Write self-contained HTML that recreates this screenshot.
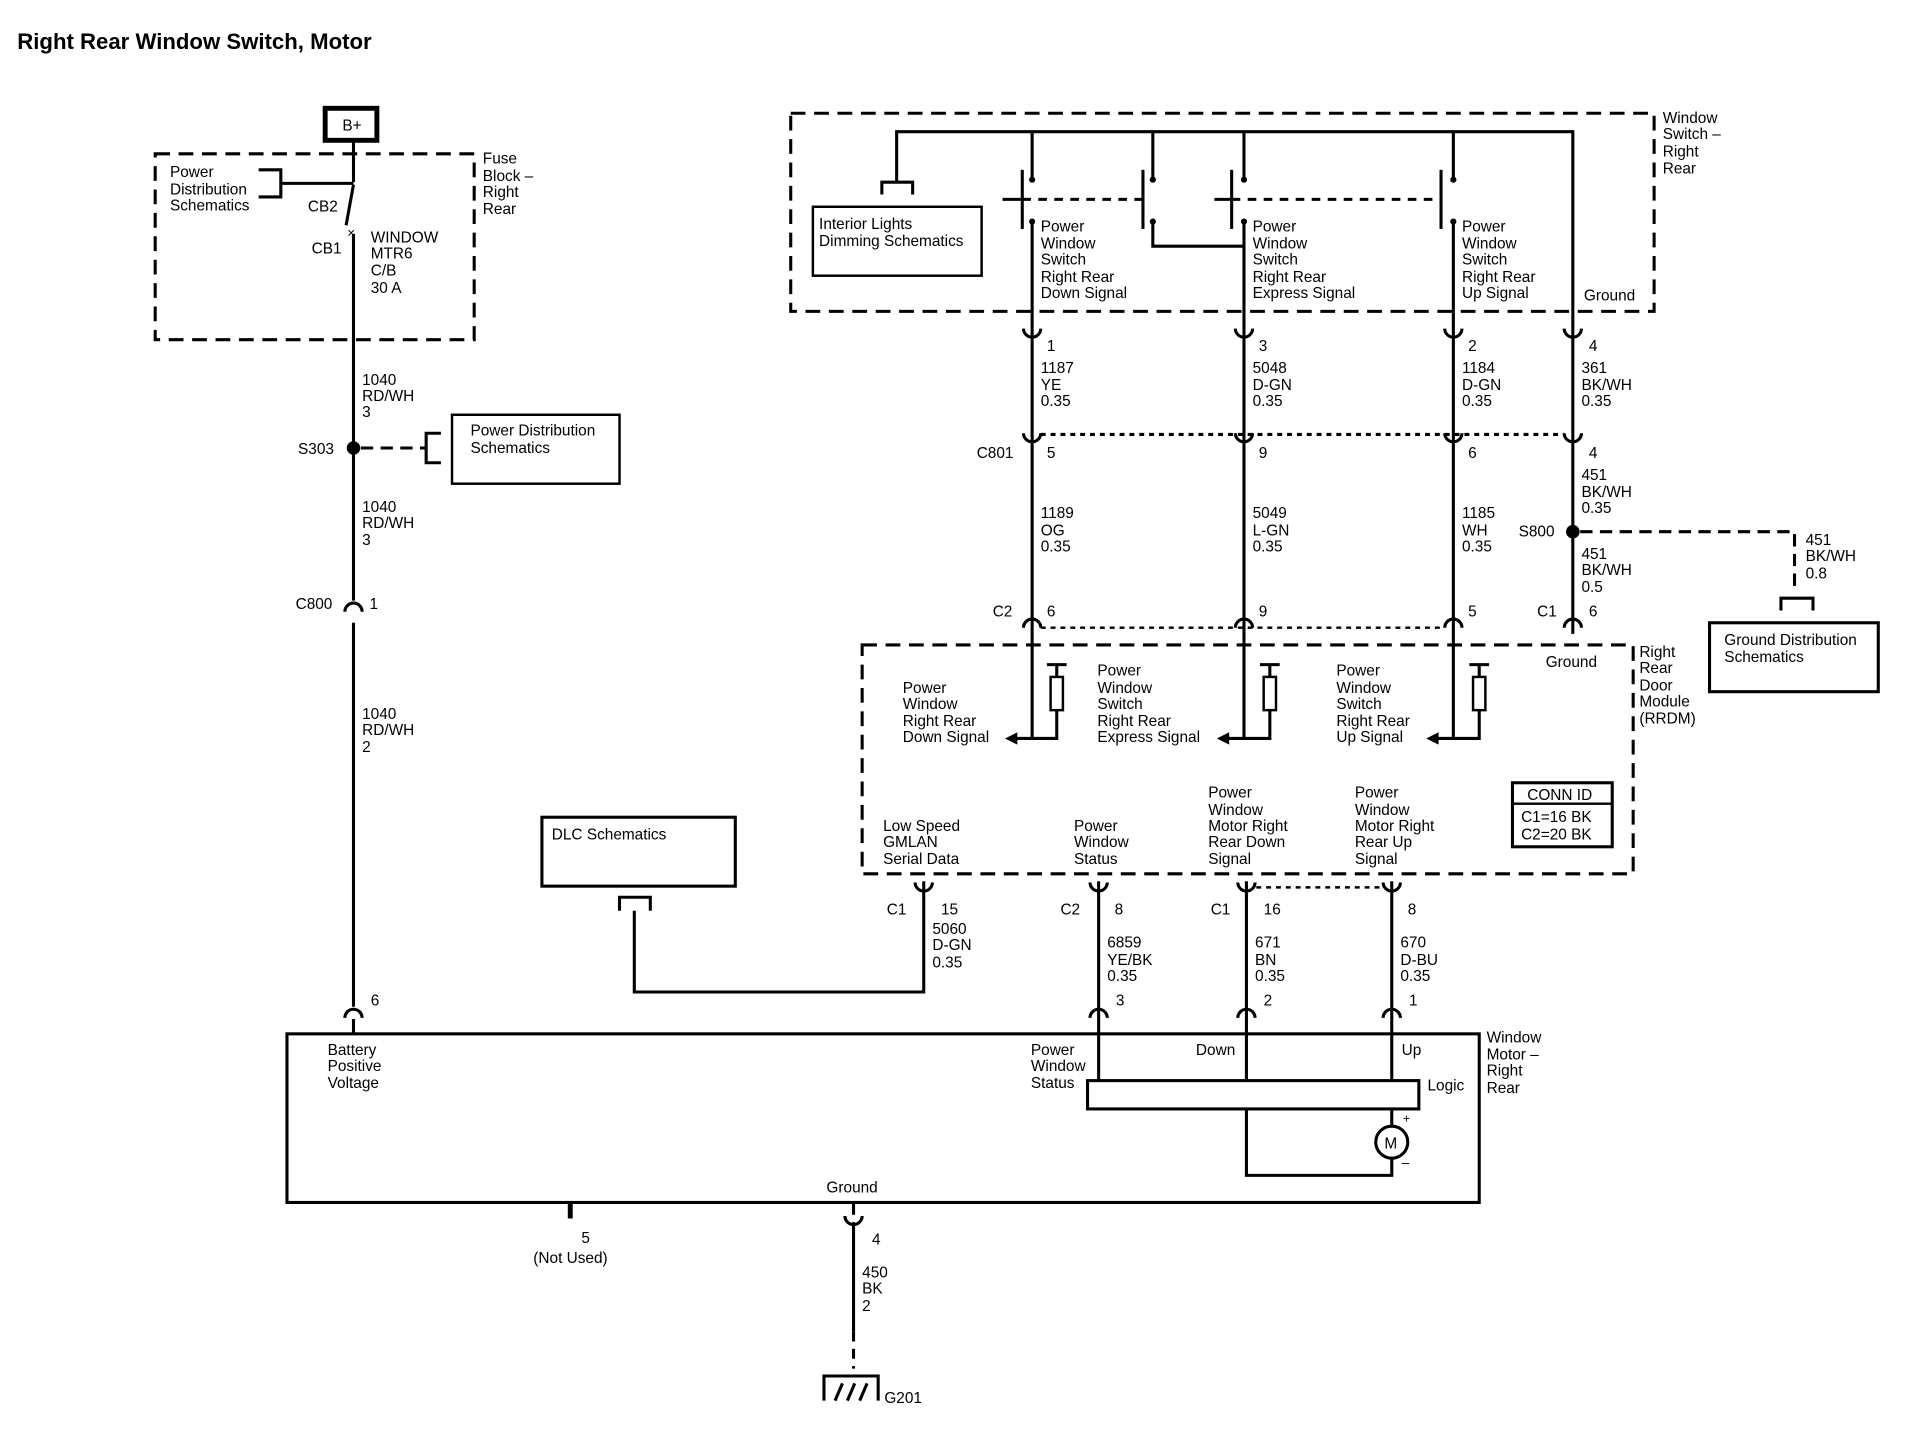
<!DOCTYPE html>
<html><head><meta charset="utf-8"><style>
html,body{margin:0;padding:0;background:#fff;}
svg{display:block;}
text{font-family:"Liberation Sans",sans-serif;font-size:12.5px;fill:#000;}
.t{font-size:18px;font-weight:bold;}
</style></head><body>
<svg width="1930" height="1440" viewBox="0 0 1567 1170" preserveAspectRatio="none" xmlns="http://www.w3.org/2000/svg">
<defs>
<g id="cn"><path d="M-7,7 A7,7 0 0 1 7,7" fill="none" stroke="#000" stroke-width="2.5"/></g>
<g id="cu"><path d="M-7,-5 A7,7 0 0 0 7,-5" fill="none" stroke="#000" stroke-width="2.5"/></g>
</defs>
<text x="14" y="40" class="t">Right Rear Window Switch, Motor</text>

<rect x="264" y="88" width="42" height="26" fill="none" stroke="#000" stroke-width="4"/>
<text x="278" y="106">B+</text>
<g stroke="#000" stroke-width="2.5" fill="none">
<line x1="287" y1="114" x2="287" y2="148"/>
<path d="M287,150 L281,183"/>
<line x1="287" y1="190" x2="287" y2="488"/>
<line x1="287" y1="506" x2="287" y2="818"/>
<path d="M210,138 H228 V160 H210 M228,149 H287"/>
</g>
<text x="282" y="193" style="font-size:11px">×</text>
<rect x="126" y="125" width="259" height="151" fill="none" stroke="#000" stroke-width="2.5" stroke-dasharray="12,7"/>
<text x="138" y="144">Power</text><text x="138" y="158">Distribution</text><text x="138" y="171">Schematics</text>
<text x="250" y="172">CB2</text><text x="253" y="206">CB1</text>
<text x="301" y="197">WINDOW</text><text x="301" y="210">MTR6</text><text x="301" y="224">C/B</text><text x="301" y="238">30 A</text>
<text x="392" y="133">Fuse</text><text x="392" y="147">Block –</text><text x="392" y="160">Right</text><text x="392" y="174">Rear</text>
<text x="294" y="313">1040</text><text x="294" y="326">RD/WH</text><text x="294" y="339">3</text>
<circle cx="287" cy="364" r="5.5"/>
<text x="242" y="369">S303</text>
<line x1="293" y1="364" x2="345" y2="364" stroke="#000" stroke-width="2.5" stroke-dasharray="10,6"/>
<path d="M358,352 H346 V376 H358" fill="none" stroke="#000" stroke-width="2.5"/>
<rect x="367" y="337" width="136" height="56" fill="none" stroke="#000" stroke-width="2"/>
<text x="382" y="354">Power Distribution</text><text x="382" y="368">Schematics</text>
<text x="294" y="416">1040</text><text x="294" y="429">RD/WH</text><text x="294" y="443">3</text>
<use href="#cn" x="287" y="490"/>
<text x="240" y="495">C800</text><text x="300" y="495">1</text>
<text x="294" y="584">1040</text><text x="294" y="597">RD/WH</text><text x="294" y="611">2</text>
<use href="#cn" x="287" y="820"/>
<text x="301" y="817">6</text>
<line x1="287" y1="828" x2="287" y2="840" stroke="#000" stroke-width="2.5"/>

<rect x="642" y="92" width="701" height="161" fill="none" stroke="#000" stroke-width="2.5" stroke-dasharray="12,7"/>
<text x="1350" y="100">Window</text><text x="1350" y="113">Switch –</text><text x="1350" y="127">Right</text><text x="1350" y="141">Rear</text>
<g stroke="#000" stroke-width="2.5" fill="none">
<path d="M728,148 V107 H1277 V262"/>
<path d="M716,158 V148 H741 V158"/>
<line x1="838" y1="107" x2="838" y2="146"/>
<line x1="936" y1="107" x2="936" y2="146"/>
<line x1="1010" y1="107" x2="1010" y2="146"/>
<line x1="1180" y1="107" x2="1180" y2="146"/>
<line x1="830" y1="138" x2="830" y2="186"/>
<line x1="928" y1="138" x2="928" y2="186"/>
<line x1="1000" y1="138" x2="1000" y2="186"/>
<line x1="1170" y1="138" x2="1170" y2="186"/>
<line x1="838" y1="180" x2="838" y2="262"/>
<path d="M936,180 V200 H1010"/>
<line x1="1010" y1="180" x2="1010" y2="262"/>
<line x1="1180" y1="180" x2="1180" y2="262"/>
<line x1="814" y1="162" x2="830" y2="162"/>
<line x1="986" y1="162" x2="1000" y2="162"/>
</g>
<g stroke="#000" stroke-width="2.5" stroke-dasharray="7,6"><line x1="830" y1="162" x2="928" y2="162"/><line x1="1000" y1="162" x2="1170" y2="162"/></g>
<g><circle cx="838" cy="146" r="2.5"/><circle cx="838" cy="180" r="2.5"/><circle cx="936" cy="146" r="2.5"/><circle cx="936" cy="180" r="2.5"/><circle cx="1010" cy="146" r="2.5"/><circle cx="1010" cy="180" r="2.5"/><circle cx="1180" cy="146" r="2.5"/><circle cx="1180" cy="180" r="2.5"/></g>
<rect x="660" y="168" width="137" height="56" fill="none" stroke="#000" stroke-width="2"/>
<text x="665" y="186">Interior Lights</text><text x="665" y="200">Dimming Schematics</text>
<text x="845" y="188">Power</text><text x="845" y="202">Window</text><text x="845" y="215">Switch</text><text x="845" y="229">Right Rear</text><text x="845" y="242">Down Signal</text>
<text x="1017" y="188">Power</text><text x="1017" y="202">Window</text><text x="1017" y="215">Switch</text><text x="1017" y="229">Right Rear</text><text x="1017" y="242">Express Signal</text>
<text x="1187" y="188">Power</text><text x="1187" y="202">Window</text><text x="1187" y="215">Switch</text><text x="1187" y="229">Right Rear</text><text x="1187" y="242">Up Signal</text>
<text x="1286" y="244">Ground</text>

<g stroke="#000" stroke-width="2.5">
<line x1="838" y1="262" x2="838" y2="600"/>
<line x1="1010" y1="262" x2="1010" y2="600"/>
<line x1="1180" y1="262" x2="1180" y2="600"/>
<line x1="1277" y1="262" x2="1277" y2="515"/>
</g>
<g><use href="#cu" x="838" y="272"/><use href="#cu" x="1010" y="272"/><use href="#cu" x="1180" y="272"/><use href="#cu" x="1277" y="272"/>
<use href="#cu" x="838" y="357"/><use href="#cu" x="1010" y="357"/><use href="#cu" x="1180" y="357"/><use href="#cu" x="1277" y="357"/>
<use href="#cn" x="838" y="503"/><use href="#cn" x="1010" y="503"/><use href="#cn" x="1180" y="503"/><use href="#cn" x="1277" y="503"/></g>
<line x1="845" y1="353" x2="1270" y2="353" stroke="#000" stroke-width="2.5" stroke-dasharray="4,4"/>
<line x1="845" y1="510" x2="1170" y2="510" stroke="#000" stroke-width="2" stroke-dasharray="4,4"/>
<text x="850" y="285">1</text><text x="1022" y="285">3</text><text x="1192" y="285">2</text><text x="1290" y="285">4</text>
<text x="845" y="303">1187</text><text x="845" y="317">YE</text><text x="845" y="330">0.35</text>
<text x="1017" y="303">5048</text><text x="1017" y="317">D-GN</text><text x="1017" y="330">0.35</text>
<text x="1187" y="303">1184</text><text x="1187" y="317">D-GN</text><text x="1187" y="330">0.35</text>
<text x="1284" y="303">361</text><text x="1284" y="317">BK/WH</text><text x="1284" y="330">0.35</text>
<text x="793" y="372">C801</text><text x="850" y="372">5</text><text x="1022" y="372">9</text><text x="1192" y="372">6</text><text x="1290" y="372">4</text>
<text x="1284" y="390">451</text><text x="1284" y="404">BK/WH</text><text x="1284" y="417">0.35</text>
<text x="845" y="421">1189</text><text x="845" y="435">OG</text><text x="845" y="448">0.35</text>
<text x="1017" y="421">5049</text><text x="1017" y="435">L-GN</text><text x="1017" y="448">0.35</text>
<text x="1187" y="421">1185</text><text x="1187" y="435">WH</text><text x="1187" y="448">0.35</text>
<circle cx="1277" cy="432" r="5.5"/>
<text x="1233" y="436">S800</text>
<path d="M1283,432 H1457 V478" fill="none" stroke="#000" stroke-width="2.5" stroke-dasharray="10,6"/>
<path d="M1446,496 V486 H1472 V496" fill="none" stroke="#000" stroke-width="2.5"/>
<text x="1466" y="443">451</text><text x="1466" y="456">BK/WH</text><text x="1466" y="470">0.8</text>
<rect x="1388" y="506" width="137" height="56" fill="none" stroke="#000" stroke-width="2.5"/>
<text x="1400" y="524">Ground Distribution</text><text x="1400" y="538">Schematics</text>
<text x="1284" y="454">451</text><text x="1284" y="467">BK/WH</text><text x="1284" y="481">0.5</text>
<text x="806" y="501">C2</text><text x="850" y="501">6</text><text x="1022" y="501">9</text><text x="1192" y="501">5</text><text x="1248" y="501">C1</text><text x="1290" y="501">6</text>

<rect x="700" y="524" width="626" height="186" fill="none" stroke="#000" stroke-width="2.5" stroke-dasharray="12,7"/>
<text x="1331" y="534">Right</text><text x="1331" y="547">Rear</text><text x="1331" y="561">Door</text><text x="1331" y="574">Module</text><text x="1331" y="588">(RRDM)</text>
<text x="1255" y="542">Ground</text>
<g stroke="#000" stroke-width="2.5" fill="none">
<path d="M858,540 V600 H825"/><path d="M850,540 H866"/>
<path d="M1031,540 V600 H997"/><path d="M1023,540 H1039"/>
<path d="M1201,540 V600 H1167"/><path d="M1193,540 H1209"/>
</g>
<g fill="#fff" stroke="#000" stroke-width="2"><rect x="853" y="550" width="10" height="27"/><rect x="1026" y="550" width="10" height="27"/><rect x="1196" y="550" width="10" height="27"/></g>
<path d="M816,600 L826,595 L826,605Z M988,600 L998,595 L998,605Z M1158,600 L1168,595 L1168,605Z"/>
<text x="733" y="563">Power</text><text x="733" y="576">Window</text><text x="733" y="590">Right Rear</text><text x="733" y="603">Down Signal</text>
<text x="891" y="549">Power</text><text x="891" y="563">Window</text><text x="891" y="576">Switch</text><text x="891" y="590">Right Rear</text><text x="891" y="603">Express Signal</text>
<text x="1085" y="549">Power</text><text x="1085" y="563">Window</text><text x="1085" y="576">Switch</text><text x="1085" y="590">Right Rear</text><text x="1085" y="603">Up Signal</text>
<rect x="1228" y="636" width="81" height="52" fill="none" stroke="#000" stroke-width="2.5"/>
<line x1="1228" y1="653" x2="1309" y2="653" stroke="#000" stroke-width="2"/>
<text x="1240" y="650">CONN ID</text><text x="1235" y="668">C1=16 BK</text><text x="1235" y="682">C2=20 BK</text>
<text x="717" y="675">Low Speed</text><text x="717" y="688">GMLAN</text><text x="717" y="702">Serial Data</text>
<text x="872" y="675">Power</text><text x="872" y="688">Window</text><text x="872" y="702">Status</text>
<text x="981" y="648">Power</text><text x="981" y="662">Window</text><text x="981" y="675">Motor Right</text><text x="981" y="688">Rear Down</text><text x="981" y="702">Signal</text>
<text x="1100" y="648">Power</text><text x="1100" y="662">Window</text><text x="1100" y="675">Motor Right</text><text x="1100" y="688">Rear Up</text><text x="1100" y="702">Signal</text>

<rect x="440" y="664" width="157" height="56" fill="none" stroke="#000" stroke-width="2.5"/>
<text x="448" y="682">DLC Schematics</text>
<g stroke="#000" stroke-width="2.5" fill="none">
<path d="M503,740 V729 H528 V740"/>
<path d="M515,740 V806 H750 V716"/>
<line x1="892" y1="716" x2="892" y2="878"/>
<line x1="1012" y1="716" x2="1012" y2="878"/>
<line x1="1130" y1="716" x2="1130" y2="878"/>
</g>
<use href="#cu" x="750" y="722"/><use href="#cu" x="892" y="722"/><use href="#cu" x="1012" y="722"/><use href="#cu" x="1130" y="722"/>
<line x1="1020" y1="721" x2="1124" y2="721" stroke="#000" stroke-width="2" stroke-dasharray="4,4"/>
<text x="720" y="743">C1</text><text x="764" y="743">15</text>
<text x="861" y="743">C2</text><text x="905" y="743">8</text>
<text x="983" y="743">C1</text><text x="1026" y="743">16</text>
<text x="1143" y="743">8</text>
<text x="757" y="759">5060</text><text x="757" y="772">D-GN</text><text x="757" y="786">0.35</text>
<text x="899" y="770">6859</text><text x="899" y="784">YE/BK</text><text x="899" y="797">0.35</text>
<text x="1019" y="770">671</text><text x="1019" y="784">BN</text><text x="1019" y="797">0.35</text>
<text x="1137" y="770">670</text><text x="1137" y="784">D-BU</text><text x="1137" y="797">0.35</text>
<use href="#cn" x="892" y="820"/><use href="#cn" x="1012" y="820"/><use href="#cn" x="1130" y="820"/>
<text x="906" y="817">3</text><text x="1026" y="817">2</text><text x="1144" y="817">1</text>

<rect x="233" y="840" width="968" height="137" fill="none" stroke="#000" stroke-width="2.5"/>
<text x="1207" y="847">Window</text><text x="1207" y="861">Motor –</text><text x="1207" y="874">Right</text><text x="1207" y="888">Rear</text>
<text x="266" y="857">Battery</text><text x="266" y="870">Positive</text><text x="266" y="884">Voltage</text>
<text x="837" y="857">Power</text><text x="837" y="870">Window</text><text x="837" y="884">Status</text>
<text x="971" y="857">Down</text><text x="1138" y="857">Up</text><text x="1159" y="886">Logic</text>
<rect x="883" y="878" width="269" height="23" fill="none" stroke="#000" stroke-width="2.5"/>
<g stroke="#000" stroke-width="2.5" fill="none">
<path d="M1012,901 V955 H1130 V941"/><path d="M1130,901 V915"/>
<circle cx="1130" cy="928" r="13"/>
</g>
<text x="1124" y="933">M</text><text x="1139" y="912" style="font-size:10px">+</text><text x="1138" y="948" style="font-size:11px">–</text>
<text x="671" y="969">Ground</text>
<line x1="463" y1="977" x2="463" y2="990" stroke="#000" stroke-width="4"/>
<text x="472" y="1010">5</text><text x="433" y="1026">(Not Used)</text>
<line x1="693" y1="977" x2="693" y2="987" stroke="#000" stroke-width="2.5"/>
<use href="#cu" x="693" y="993"/>
<text x="708" y="1011">4</text>
<line x1="693" y1="993" x2="693" y2="1082" stroke="#000" stroke-width="2.5"/>
<line x1="693" y1="1082" x2="693" y2="1112" stroke="#000" stroke-width="2.5" stroke-dasharray="8,6"/>
<text x="700" y="1038">450</text><text x="700" y="1051">BK</text><text x="700" y="1065">2</text>
<g stroke="#000" stroke-width="2.5" fill="none">
<path d="M669,1138 V1118 H713 V1138"/>
<path d="M678,1138 L684,1124 M688,1138 L694,1124 M698,1138 L704,1124"/>
</g>
<text x="718" y="1140">G201</text>
</svg>
</body></html>
